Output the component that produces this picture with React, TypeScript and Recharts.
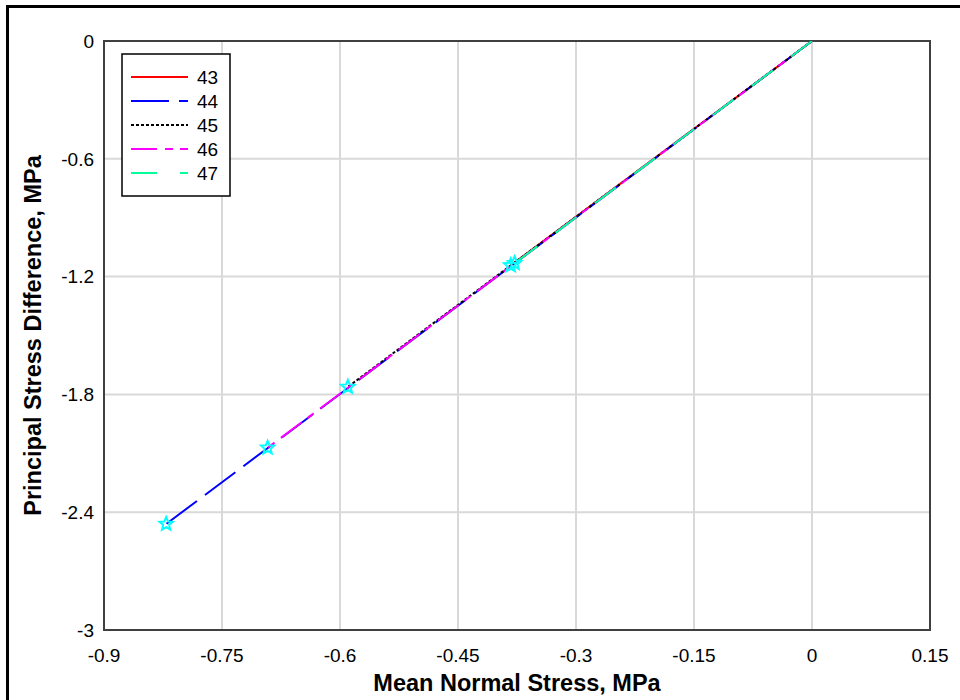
import { CartesianGrid, Line, LineChart, ReferenceArea, XAxis, YAxis } from 'recharts';

// end points of each test path (all start at the origin)
const seriesNames = ['43', '44', '45', '46', '47'];
const meanStressEnd = [-0.383, -0.821, -0.59, -0.692, -0.378];
const stressDiffEnd = [-1.143, -2.46, -1.762, -2.072, -1.132];

const xTicks = [-0.9, -0.75, -0.6, -0.45, -0.3, -0.15, 0, 0.15];
const yTicks = [-3, -2.4, -1.8, -1.2, -0.6, 0];

const colors = ['#ff0000', '#0000ff', '#000000', '#ff00ff', '#00ff99'];
const dashes = ['', '38 10', '3 2', '26 8 8 7', '26 23'];

const FONT = 'Arial, "Liberation Sans", sans-serif';

const seriesData = seriesNames.map((name, i) => ({
  name,
  points: [
    { x: 0, y: 0 },
    { x: meanStressEnd[i], y: stressDiffEnd[i] },
  ],
}));

function starPath(cx: number, cy: number, r: number) {
  const pts: string[] = [];
  for (let k = 0; k < 10; k++) {
    const rad = k % 2 === 0 ? r : r * 0.45;
    const a = -Math.PI / 2 + (k * Math.PI) / 5;
    pts.push(`${(cx + rad * Math.cos(a)).toFixed(2)},${(cy + rad * Math.sin(a)).toFixed(2)}`);
  }
  return `M${pts.join('L')}Z`;
}

function EndStar(props: any) {
  const { cx, cy, index, points } = props;
  if (cx == null || cy == null || index !== (points?.length ?? 2) - 1) return <g key={`s${index}`} />;
  return <path key={`s${index}`} d={starPath(cx, cy, 7)} fill="none" stroke="#00ffff" strokeWidth={2} />;
}

function LegendBox() {
  return (
    <svg width={112} height={146} style={{ position: 'absolute', left: 121, top: 53 }}>
      <rect x={1} y={1} width={108} height={142} fill="#fff" stroke="#000" strokeWidth={1.5} />
      {seriesNames.map((name, i) => {
        const y = 24 + i * 24;
        return (
          <g key={name}>
            <line x1={10} x2={67} y1={y} y2={y} stroke={colors[i]} strokeWidth={2} strokeDasharray={dashes[i] || undefined} />
            <text x={76} y={y} dominantBaseline="central" fontSize={19} fontFamily={FONT} fill="#000">
              {name}
            </text>
          </g>
        );
      })}
    </svg>
  );
}

export default function App() {
  return (
    <div
      style={{
        position: 'absolute',
        left: 0,
        top: 0,
        width: 960,
        height: 700,
        overflow: 'hidden',
        background: '#fff',
        fontFamily: FONT,
      }}
    >
      <div
        style={{
          position: 'absolute',
          left: 6,
          top: 5,
          width: 1000,
          height: 1000,
          border: '3px solid #000',
        }}
      />
      <LineChart width={960} height={700} margin={{ top: 41, right: 30, bottom: 8, left: 8 }}>
        <CartesianGrid stroke="#d9d9d9" strokeWidth={2} />
        <XAxis
          type="number"
          dataKey="x"
          domain={[-0.9, 0.15]}
          ticks={xTicks}
          allowDataOverflow
          height={62}
          tickSize={0}
          tickMargin={19}
          axisLine={false}
          tick={{ fontSize: 19, fontFamily: FONT, fill: '#000' }}
          tickFormatter={(v: number) => String(Number(v.toFixed(2)))}
          label={{
            content: ({ viewBox }: any) => (
              <text
                x={viewBox.x + viewBox.width / 2}
                y={viewBox.y + 53}
                textAnchor="middle"
                dominantBaseline="central"
                fontSize={23.5}
                fontWeight="bold"
                fontFamily={FONT}
                fill="#000"
              >
                Mean Normal Stress, MPa
              </text>
            ),
          }}
        />
        <YAxis
          type="number"
          dataKey="y"
          domain={[-3, 0]}
          ticks={yTicks}
          allowDataOverflow
          width={96}
          tickSize={0}
          tickMargin={10}
          axisLine={false}
          tick={{ fontSize: 19, fontFamily: FONT, fill: '#000' }}
          tickFormatter={(v: number) => String(Number(v.toFixed(2)))}
          label={{
            content: ({ viewBox }: any) => {
              const cx = viewBox.x + 25;
              const cy = viewBox.y + viewBox.height / 2;
              return (
                <text
                  x={cx}
                  y={cy}
                  transform={`rotate(-90 ${cx} ${cy})`}
                  textAnchor="middle"
                  dominantBaseline="central"
                  fontSize={23.5}
                  fontWeight="bold"
                  fontFamily={FONT}
                  fill="#000"
                >
                  Principal Stress Difference, MPa
                </text>
              );
            },
          }}
        />
        <ReferenceArea x1={-0.9} x2={0.15} y1={-3} y2={0} fill="none" stroke="#404040" strokeWidth={2} />
        {seriesData.map((s, i) => (
          <Line
            key={s.name}
            data={s.points}
            dataKey="y"
            name={s.name}
            type="linear"
            stroke={colors[i]}
            strokeWidth={2}
            strokeDasharray={dashes[i] || undefined}
            dot={(p: any) => <EndStar {...p} points={s.points} />}
            activeDot={false}
            isAnimationActive={false}
          />
        ))}
      </LineChart>
      <LegendBox />
    </div>
  );
}
